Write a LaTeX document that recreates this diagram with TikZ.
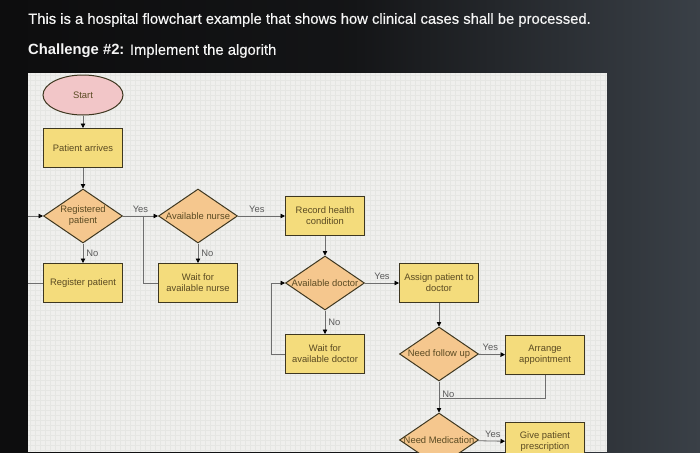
\documentclass[tikz,border=0pt]{standalone}
\usepackage{fontspec}
\setmainfont{Liberation Sans}
\usetikzlibrary{shapes.geometric,arrows.meta}
\definecolor{bgdark}{HTML}{0D0D0E}
\definecolor{bgslate}{HTML}{3A4047}
\definecolor{panelbg}{HTML}{EFEFED}
\definecolor{gridc}{HTML}{E5E6E3}
\definecolor{bordc}{HTML}{3E3720}
\definecolor{procfill}{HTML}{F4DC7C}
\definecolor{decfill}{HTML}{F5C78E}
\definecolor{startfill}{HTML}{F2C6C8}
\definecolor{txtc}{HTML}{5A4A22}
\definecolor{labc}{HTML}{5A5A5A}
\definecolor{linec}{HTML}{6E6E6E}
\tikzset{
  nodefont/.style={font=\fontsize{9.4}{11}\selectfont},
  proc/.style={draw=bordc, line width=1pt, fill=procfill, minimum width=79pt, minimum height=39pt, text=txtc, nodefont, align=center, inner sep=1pt},
  dec/.style={diamond, draw=bordc, line width=1pt, fill=decfill, minimum width=79pt, minimum height=54pt, inner sep=0pt},
  dtext/.style={text=txtc, nodefont, align=center, inner sep=0pt},
  startshape/.style={ellipse, draw=bordc, line width=1pt, fill=startfill, minimum width=80pt, minimum height=40pt, text=txtc, nodefont, inner sep=0pt},
  plainline/.style={draw=linec, line width=0.8pt},
  conn/.style={plainline, -{Triangle[length=4.5pt,width=4.5pt,fill=black,color=black]}},
  lab/.style={text=labc, nodefont, inner sep=3pt},
  titletext/.style={text=white!96!black, anchor=west, inner sep=0pt, font=\fontsize{14.8}{17}\selectfont}
}
\begin{document}
\begin{tikzpicture}[x=1pt,y=-1pt]
\useasboundingbox (0,0) rectangle (700,452);
\shade[left color=bgdark, right color=bgslate, middle color=bgdark!85!bgslate] (0,0) rectangle (700,452);
\fill[bgdark] (0,0) rectangle (28,452);
\node[titletext] (title1) at (28,20) {\addfontfeature{FakeBold=0.4}This is a hospital flowchart example that shows how clinical cases shall be processed.};
\node[titletext] (title2) at (28,51) {\textbf{Challenge \#2:} {\addfontfeature{FakeBold=0.4}Implement the algorith}};
\begin{scope}
\clip (28,73) rectangle (607,452);
\fill[panelbg] (28,73) rectangle (607,452);
\draw[gridc, line width=0.4pt, step=5pt] (28,73) grid (607,452);

\node[startshape] (start) at (83,95) {Start};
\node[proc] (pa) at (83,148) {Patient arrives};
\node[dec] (rp) at (83,216) {};
\node[dtext] (rpt) at (rp) {Registered\\patient};
\node[proc] (reg) at (83,283) {Register patient};
\node[dec] (an) at (198,216) {};
\node[dtext] (ant) at (an) {Available nurse};
\node[proc] (wn) at (198,283) {Wait for\\available nurse};
\node[proc] (rh) at (325,216) {Record health\\condition};
\node[dec] (ad) at (325,283) {};
\node[dtext] (adt) at (ad) {Available doctor};
\node[proc] (wd) at (325,354) {Wait for\\available doctor};
\node[proc] (ap) at (439,283) {Assign patient to\\doctor};
\node[dec] (nf) at (439,354) {};
\node[dtext] (nft) at (nf) {Need follow up};
\node[proc] (aa) at (545,355) {Arrange\\appointment};
\node[dec] (nm) at (439,440) {};
\node[dtext] (nmt) at (nm) {Need Medication};
\node[proc] (gp) at (545,442) {Give patient\\prescription};

\coordinate (lpt) at (27,216);
\coordinate (jn) at (143,216);
\coordinate (dl) at (271,283);
\coordinate (jm) at (439,398);

\draw[conn] (start) -- (pa);
\draw[conn] (pa) -- (rp);
\draw[conn] (rp) -- node[lab, above] {Yes} (an);
\draw[conn] (rp) -- node[lab, right] {No} (reg);
\draw[conn] (reg.west) -- (reg.west -| lpt) -- (lpt) -- (rp.west);
\draw[plainline] (wn.west) -| (jn);
\draw[conn] (an) -- node[lab, above, pos=0.4] {Yes} (rh);
\draw[conn] (an) -- node[lab, right] {No} (wn);
\draw[conn] (rh) -- (ad);
\draw[conn] (ad) -- node[lab, right] {No} (wd);
\draw[conn] (wd.west) -| (dl) -- (ad.west);
\draw[conn] (ad) -- node[lab, above] {Yes} (ap);
\draw[conn] (ap) -- (nf);
\draw[conn] (nf) -- node[lab, above, pos=0.45] {Yes} (aa);
\draw[conn] (nf) -- node[lab, right, pos=0.4] {No} (nm);
\draw[plainline] (aa.south) |- (jm);
\draw[conn] (nm) -- node[lab, above, pos=0.55] {Yes} (gp);
\end{scope}
\end{tikzpicture}
\end{document}
